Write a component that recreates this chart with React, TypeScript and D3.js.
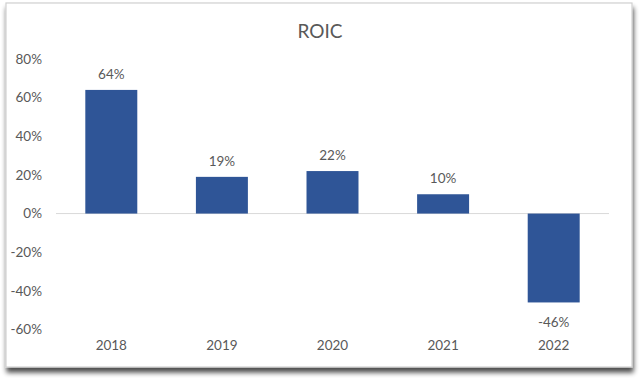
import React from "react";
import * as d3 from "d3";

const categories = ["2018", "2019", "2020", "2021", "2022"];
const roicValues = [0.64, 0.19, 0.22, 0.10, -0.46];
const yTicks = [0.8, 0.6, 0.4, 0.2, 0, -0.2, -0.4, -0.6];
const title = "ROIC";

const W = 640;
const H = 384;
const FONT = "Lato, 'Open Sans', sans-serif";
const TEXT = "#595959";
const BAR = "#2F5597";

export default function App() {
  const x = d3.scaleBand<string>().domain(categories).range([56, 609]).paddingInner(0.53).paddingOuter(0.265);
  const y = d3.scaleLinear().domain([-0.6, 0.8]).range([329.5, 59]);
  const fmt = (v: number) => d3.format(".0%")(v).replace("\u2212", "-");
  return (
    <svg width={W} height={H} style={{ position: "absolute", left: 0, top: 0, background: "#fff" }}>
      <defs>
        <filter id="sh" x="-5%" y="-5%" width="110%" height="115%">
          <feGaussianBlur in="SourceAlpha" stdDeviation="2.5" />
          <feOffset dx="1" dy="5" result="b" />
          <feComponentTransfer><feFuncA type="linear" slope="0.7" /></feComponentTransfer>
          <feMerge><feMergeNode /><feMergeNode in="SourceGraphic" /></feMerge>
        </filter>
      </defs>
      <rect x={6} y={3} width={626} height={364} fill="#fff" stroke="#d0d0d0" strokeWidth={1.2} filter="url(#sh)" />
      <text x={320} y={31} dy="0.35em" textAnchor="middle" fontFamily={FONT} fontSize={19} fill={TEXT}>{title}</text>
      {yTicks.map((t) => (
        <text key={t} x={42} y={y(t)} dy="0.35em" textAnchor="end" fontFamily={FONT} fontSize={13.5} fill={TEXT}>{fmt(t)}</text>
      ))}
      <line x1={56} x2={609} y1={y(0)} y2={y(0)} stroke="#d9d9d9" strokeWidth={1} />
      {categories.map((c, i) => {
        const v = roicValues[i];
        const bx = x(c)!;
        const top = Math.min(y(v), y(0));
        const h = Math.abs(y(v) - y(0));
        const cx = bx + x.bandwidth() / 2;
        const ly = v >= 0 ? y(v) - 16 : y(v) + 19.5;
        return (
          <g key={c}>
            <rect x={bx} y={top} width={x.bandwidth()} height={h} fill={BAR} />
            <text x={cx} y={ly} dy="0.35em" textAnchor="middle" fontFamily={FONT} fontSize={13.5} fill={TEXT}>{fmt(v)}</text>
            <text x={cx} y={345} dy="0.35em" textAnchor="middle" fontFamily={FONT} fontSize={13.5} fill={TEXT}>{c}</text>
          </g>
        );
      })}
    </svg>
  );
}
